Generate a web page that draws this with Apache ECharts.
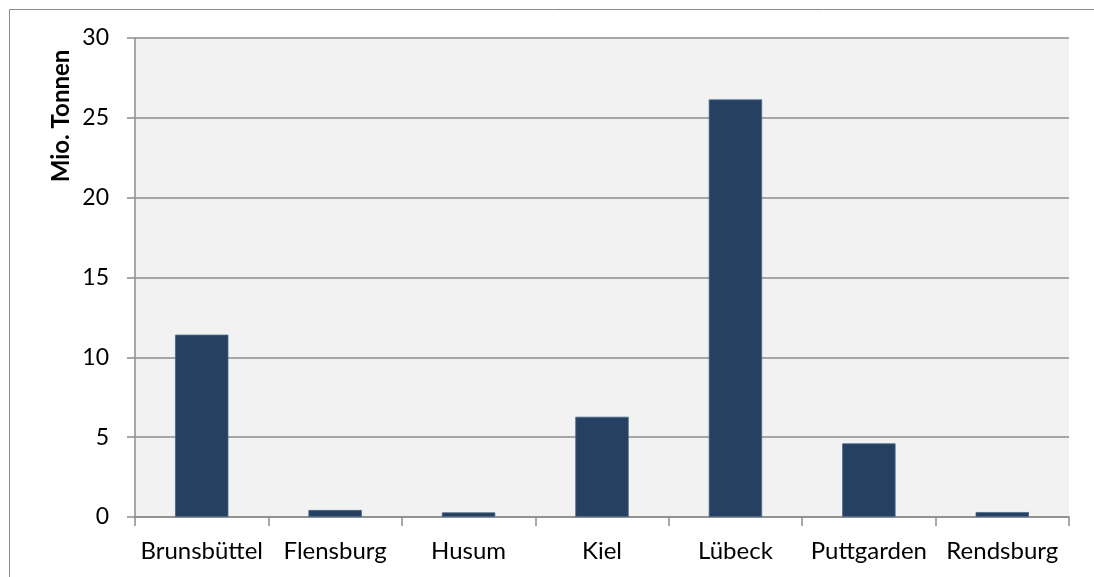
<!DOCTYPE html>
<html>
<head>
<meta charset="utf-8">
<script src="https://cdn.jsdelivr.net/npm/echarts@6/dist/echarts.min.js"></script>
<style>
  html, body { margin: 0; padding: 0; background: #fff; }
  #chart { width: 1094px; height: 577px; }
</style>
</head>
<body>
<div id="chart"></div>
<script>
// Umschlag der Häfen in Schleswig-Holstein
const ports = ['Brunsbüttel', 'Flensburg', 'Husum', 'Kiel', 'Lübeck', 'Puttgarden', 'Rendsburg'];
const tonnage = [11.42, 0.44, 0.29, 6.28, 26.15, 4.61, 0.31];
const yTicks = { min: 0, max: 30, interval: 5 };
const yTitle = 'Mio. Tonnen';

const chart = echarts.init(document.getElementById('chart'));

const option = {
    animation: false,
    textStyle: { fontFamily: 'Lato, sans-serif' },
    graphic: [
        // äußerer Rahmen
        {
            type: 'rect',
            shape: { x: 9.5, y: 9.5, width: 1200, height: 700 },
            style: { fill: null, stroke: '#8c8c8c', lineWidth: 1 },
            silent: true
        },
        // Achsentitel (oben ausgerichtet wie im Original)
        {
            type: 'text',
            x: 61,
            y: 116,
            rotation: Math.PI / 2,
            style: {
                text: yTitle,
                fill: '#000',
                fontFamily: 'Lato, sans-serif',
                fontSize: 24,
                fontWeight: 'bold',
                align: 'center',
                verticalAlign: 'middle'
            },
            silent: true
        }
    ],
    grid: {
        left: 135,
        right: 25,
        top: 38,
        bottom: 60,
        show: true,
        backgroundColor: '#f2f2f2',
        borderWidth: 0
    },
    xAxis: {
        type: 'category',
        data: ports,
        axisLine: { lineStyle: { color: '#8c8c8c', width: 1.5 } },
        axisTick: { show: true, length: 9, lineStyle: { color: '#8c8c8c', width: 1.5 } },
        axisLabel: { color: '#000', fontSize: 24, margin: 22, interval: 0 }
    },
    yAxis: {
        type: 'value',
        min: yTicks.min,
        max: yTicks.max,
        interval: yTicks.interval,
        axisLine: { show: true, lineStyle: { color: '#8c8c8c', width: 1.5 } },
        axisTick: { show: true, length: 8, lineStyle: { color: '#8c8c8c', width: 1.5 } },
        axisLabel: { color: '#000', fontSize: 23, margin: 26 },
        splitLine: { lineStyle: { color: '#8c8c8c', width: 1.5 } }
    },
    series: [{
        type: 'bar',
        data: tonnage,
        barWidth: '40%',
        itemStyle: {
            color: '#254061',
            borderColor: '#4a6788',
            borderWidth: 0.8
        }
    }]
};

chart.setOption(option);
</script>
</body>
</html>
